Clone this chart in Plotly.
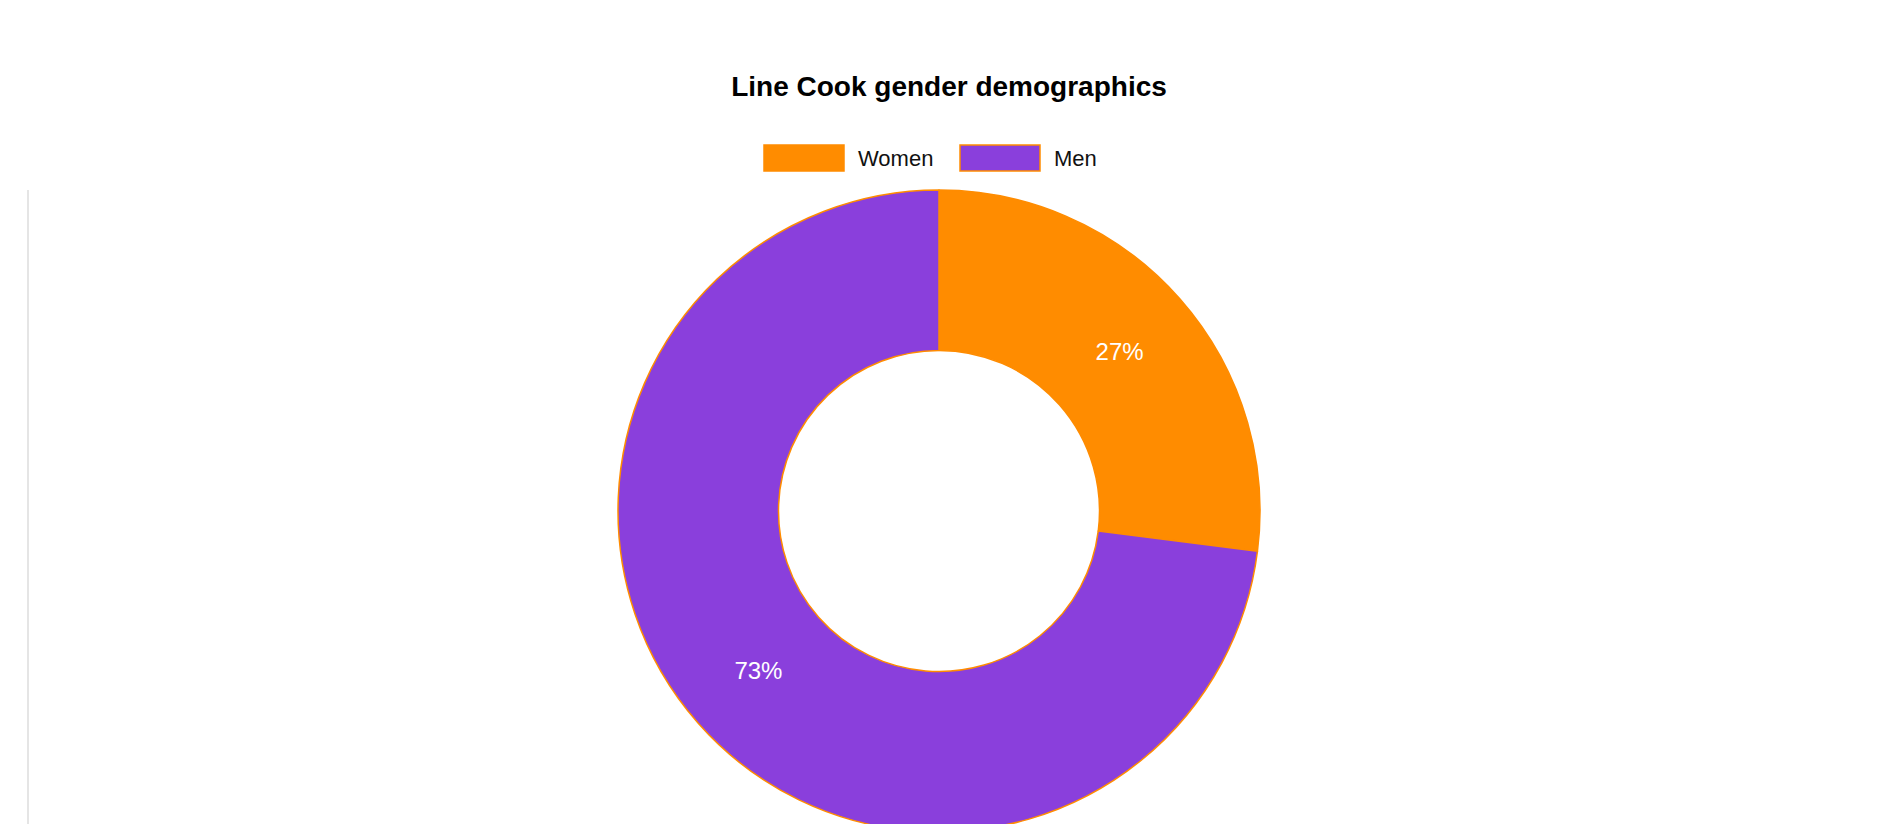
import plotly.graph_objects as go

labels = ["Women", "Men"]
values = [27, 73]
colors = ["#ff8c00", "#8a3fdc"]

W, H = 1882, 824


def px(x):
    return x / W


def py(y):
    return 1 - y / H


fig = go.Figure(
    go.Pie(
        labels=labels,
        values=values,
        hole=0.5,
        sort=False,
        direction="clockwise",
        rotation=0,
        marker=dict(colors=colors, line=dict(color="#ff8c00", width=1.5)),
        textinfo="percent",
        texttemplate="%{percent:.0%}",
        textposition="inside",
        insidetextorientation="horizontal",
        textfont=dict(color="white", size=24),
        hoverinfo="label+value",
        domain=dict(x=[px(931 - 321), px(931 + 321)], y=[py(824), py(182)]),
        showlegend=False,
    )
)

# chart.js style legend drawn by hand
shapes = [
    dict(type="line", xref="paper", yref="paper", x0=px(20), x1=px(20), y0=py(182), y1=py(823),
         line=dict(color="#dddddd", width=1.5)),
    dict(type="line", xref="paper", yref="paper", x0=px(20), x1=px(1842), y0=py(823), y1=py(823),
         line=dict(color="#dddddd", width=1.5)),
]
annotations = []
lx = [756, 952]
for i, name in enumerate(labels):
    shapes.append(dict(type="rect", xref="paper", yref="paper",
                       x0=px(lx[i]), x1=px(lx[i] + 80), y0=py(163), y1=py(137),
                       fillcolor=colors[i], line=dict(color="#ff8c00", width=1.5)))
    annotations.append(dict(text=name, xref="paper", yref="paper", x=px(lx[i] + 92), y=py(150),
                            xanchor="left", yanchor="middle", showarrow=False,
                            font=dict(size=22, color="#111")))

fig.update_layout(
    title=dict(text="<b>Line Cook gender demographics</b>", x=0.5, y=py(78), xanchor="center",
               yanchor="middle", font=dict(size=28, color="black")),
    font=dict(family="Liberation Sans, Arial, sans-serif"),
    margin=dict(l=0, r=0, t=0, b=0),
    width=W, height=H,
    paper_bgcolor="white",
    shapes=shapes,
    annotations=annotations,
)

fig.write_html("out.html")
